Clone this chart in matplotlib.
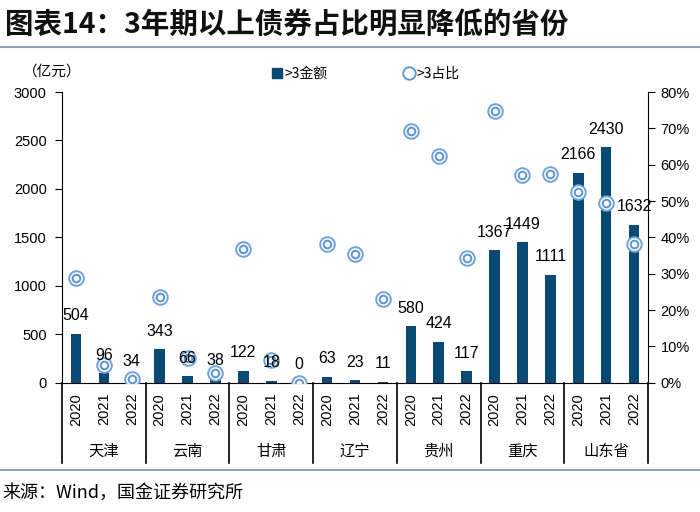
import matplotlib.pyplot as plt
from matplotlib.lines import Line2D
from matplotlib.patches import Patch
import numpy as np

plt.rcParams['font.family'] = ['Liberation Sans', 'Noto Sans CJK SC', 'DejaVu Sans']
CJK = ['Noto Sans CJK SC', 'DejaVu Sans']

# 数据
provinces = ['天津', '云南', '甘肃', '辽宁', '贵州', '重庆', '山东省']
years = ['2020', '2021', '2022']
amount = [504, 96, 34, 343, 66, 38, 122, 18, 0, 63, 23, 11,
          580, 424, 117, 1367, 1449, 1111, 2166, 2430, 1632]
share = [28.7, 5.0, 1.1, 23.7, 6.9, 2.8, 36.7, 6.3, 0.0, 38.3, 35.3, 22.9,
         69.2, 62.3, 34.2, 74.8, 57.1, 57.4, 52.4, 49.4, 38.1]

bar_color = '#0B4A75'
ring_color = '#5B93D3'
rule_color = '#8CA5BA'

W, H = 700, 512
fig = plt.figure(figsize=(7, 5.12), dpi=100)
ax = fig.add_axes([62 / W, 1 - 382.7 / H, (648 - 62) / W, (382.7 - 92) / H])
ax2 = ax.twinx()

x = np.arange(len(amount))
ax.bar(x, amount, width=0.38, color=bar_color, zorder=2)
ax.set_xlim(-0.5, len(amount) - 0.5)
ax.set_ylim(0, 3000)
ax.set_yticks(range(0, 3001, 500))
ax.tick_params(axis='y', direction='out', length=5, labelsize=10.5, pad=6)
ax.set_xticks([])
for s in ['top', 'right']:
    ax.spines[s].set_visible(False)

# 占比（双圈）
ax2.plot(x, share, 'o', ms=10.5, mfc='white', mec='#6FA3DC', mew=1.4, zorder=4)
ax2.plot(x, share, 'o', ms=5.5, mfc='white', mec=ring_color, mew=1.4, zorder=4)
ax2.set_ylim(0, 80)
ax2.set_yticks(range(0, 81, 10))
ax2.set_yticklabels([f'{t}%' for t in range(0, 81, 10)])
ax2.tick_params(axis='y', direction='out', length=5, labelsize=10.5, pad=4)
for s in ['top', 'left', 'bottom']:
    ax2.spines[s].set_visible(False)
ax2.set_zorder(ax.get_zorder() + 1)
ax2.patch.set_visible(False)

# 数值标签（画在圈之上）
for xi, v in zip(x, amount):
    ax2.annotate(str(v), (xi, v), xycoords=ax.transData, xytext=(0, 13),
                 textcoords='offset points', ha='center', va='center',
                 fontsize=11.5, zorder=6)

# 分类轴：年份与省份
trans = ax.get_xaxis_transform()
for xi in x:
    ax.text(xi, -0.035, years[xi % 3], transform=trans, rotation=90,
            ha='center', va='top', fontsize=10.5, clip_on=False)
for i, p in enumerate(provinces):
    ax.text(3 * i + 1, -0.235, p, transform=trans, ha='center', va='center',
            fontsize=11, family=CJK, clip_on=False)
for b in range(len(provinces) + 1):
    ax.plot([3 * b - 0.5, 3 * b - 0.5], [0, -0.275], transform=trans,
            color='black', lw=1.2, clip_on=False)

ax.text(-0.017, 1.07, '（亿元）', transform=ax.transAxes, ha='center', va='center',
        fontsize=10.5, family=CJK)

# 图例
handles = [Patch(color=bar_color),
           Line2D([], [], marker='o', ls='none', ms=9, mfc='white', mec=ring_color, mew=1.3)]
fig.legend(handles, ['>3金额', '>3占比'], loc='center', bbox_to_anchor=(366 / W, 1 - 74 / H),
           ncol=2, frameon=False, handlelength=0.7, handletextpad=0.2,
           columnspacing=5.5, prop={'family': CJK, 'size': 10})

# 标题与来源
fig.text(5 / W, 1 - 25 / H, '图表14：3年期以上债券占比明显降低的省份', ha='left', va='center',
         fontsize=20.5, fontweight='bold', family=CJK, color='#111111')
fig.add_artist(Line2D([0, 1], [1 - 47 / H, 1 - 47 / H], color=rule_color, lw=1.5))
fig.add_artist(Line2D([0, 1], [1 - 470 / H, 1 - 470 / H], color=rule_color, lw=1.5))
fig.text(2 / W, 1 - 493 / H, '来源：Wind，国金证券研究所', ha='left', va='center',
         fontsize=13, family=CJK)

fig.savefig('out.png', dpi=100)
